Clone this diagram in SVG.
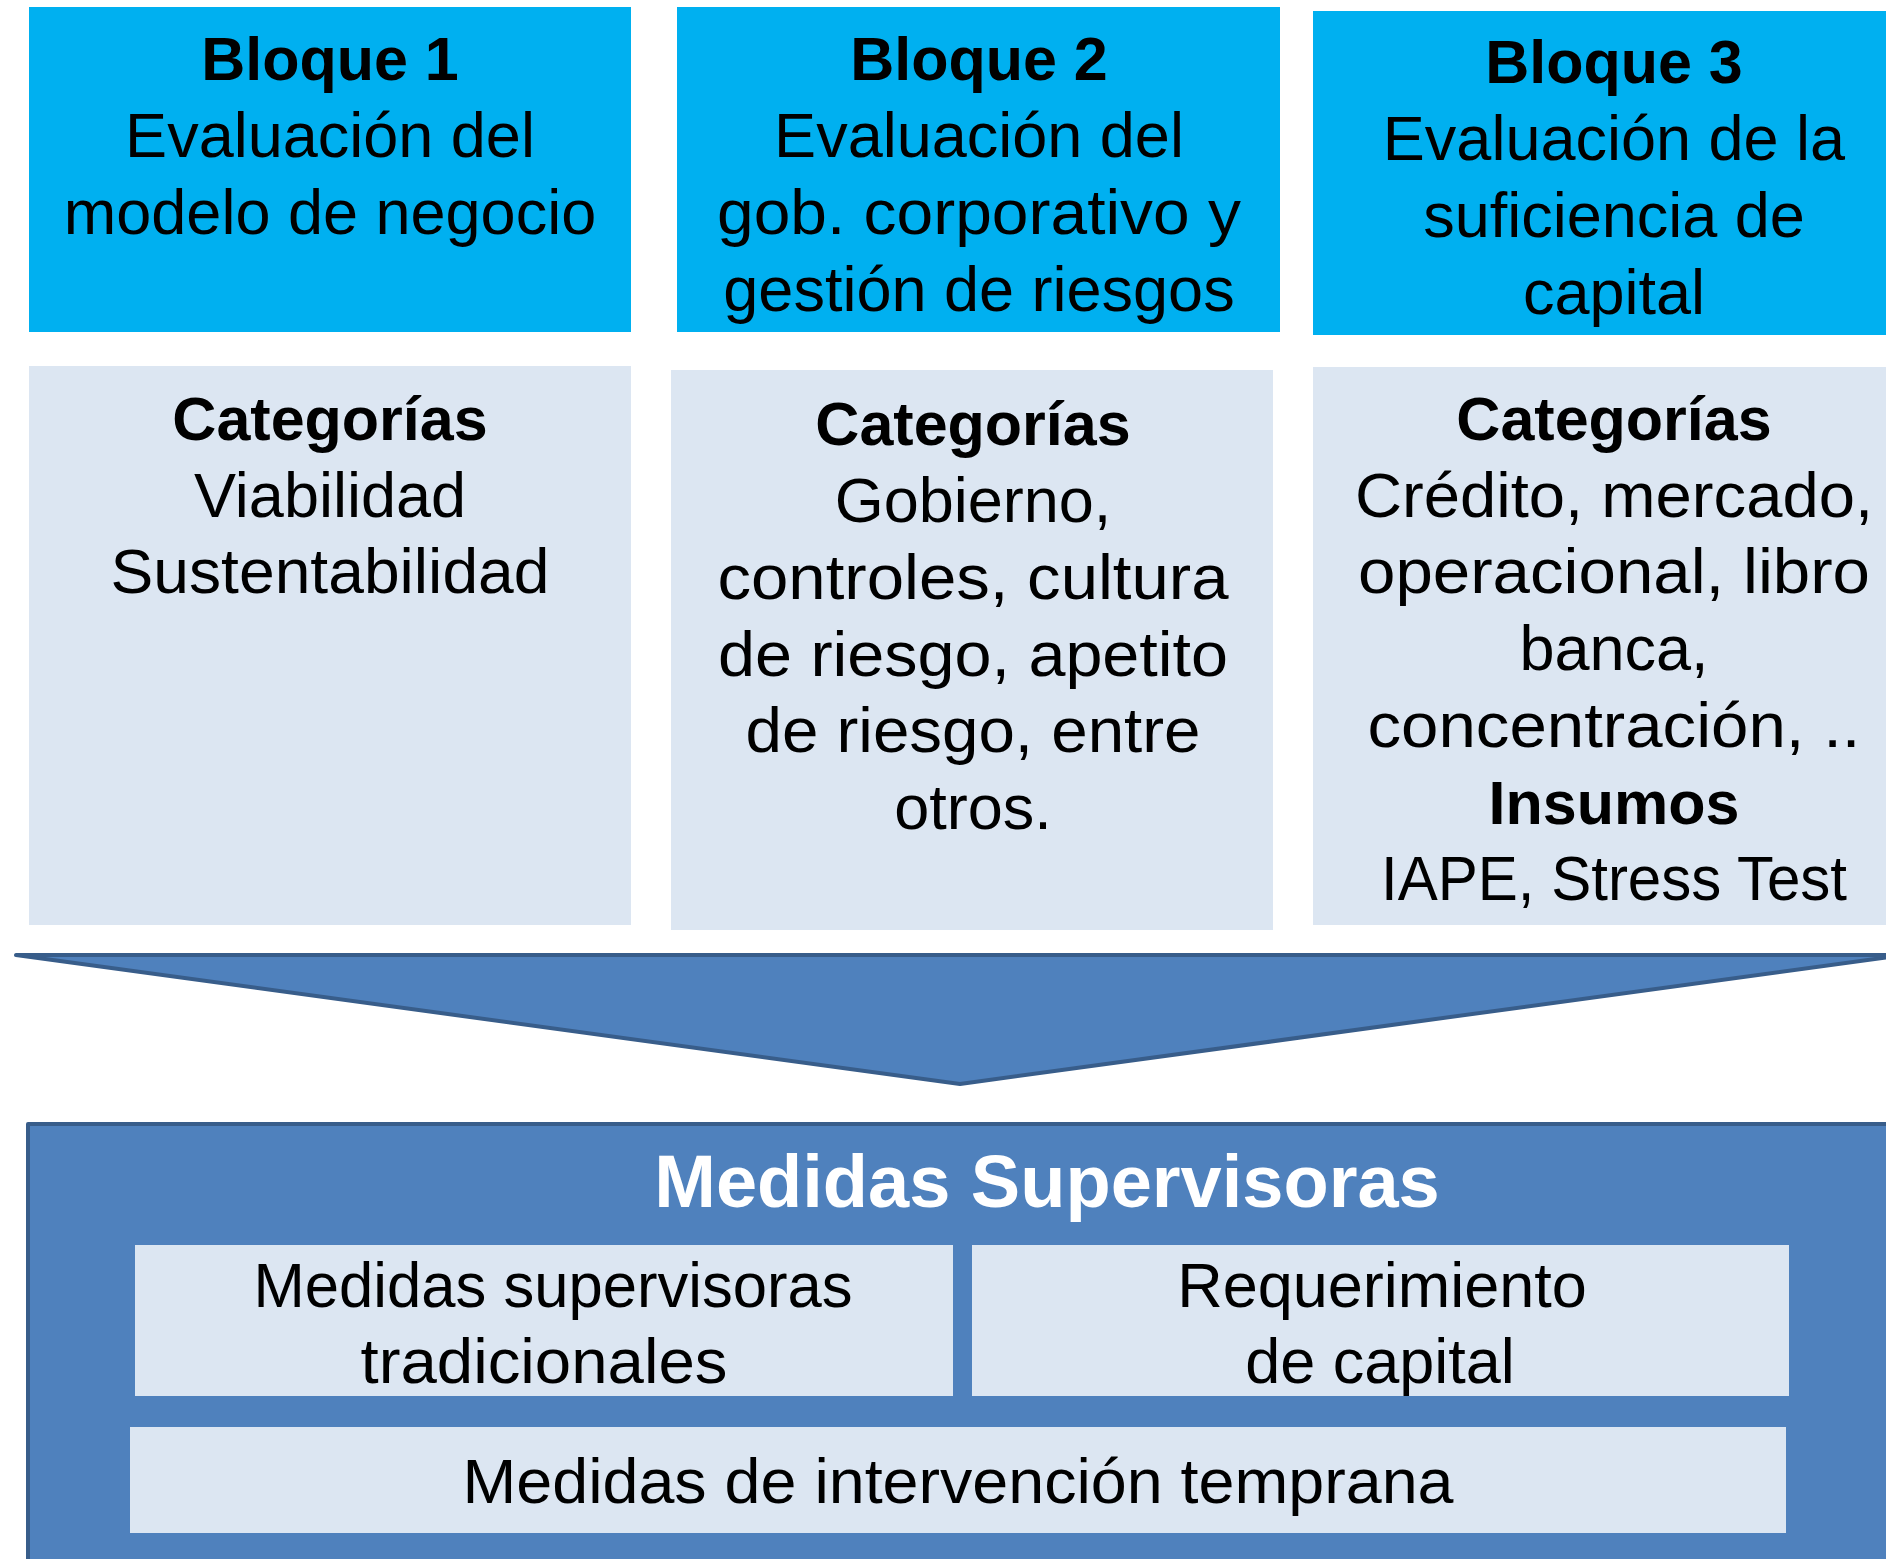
<svg xmlns="http://www.w3.org/2000/svg" width="1886" height="1559" viewBox="0 0 1886 1559">
<style>
.hdr{fill:#00B0F0}
.lt{fill:#DCE6F2}
.t{font-family:"Liberation Sans",Arial,sans-serif;font-size:63px;fill:#000;text-anchor:middle}
.b{font-weight:bold;font-size:61px}
.shape{fill:#4F81BD;stroke:#385D8A;stroke-width:4;stroke-linejoin:round}
.title{font-family:"Liberation Sans",Arial,sans-serif;font-size:74px;font-weight:bold;fill:#FFFFFF;text-anchor:middle}
</style>
<rect width="1886" height="1559" fill="#FFFFFF"/>

<g id="bloque1">
<rect class="hdr" x="29" y="7" width="602" height="325"/>
<text class="t b" x="330" y="80">Bloque 1</text>
<text class="t" x="330" y="157">Evaluación del</text>
<text class="t" x="330" y="234">modelo de negocio</text>
</g>

<g id="bloque2">
<rect class="hdr" x="677" y="7" width="603" height="325"/>
<text class="t b" x="979" y="80">Bloque 2</text>
<text class="t" x="979" y="157">Evaluación del</text>
<text class="t" x="979" y="234" textLength="524" lengthAdjust="spacingAndGlyphs">gob. corporativo y</text>
<text class="t" x="979" y="311">gestión de riesgos</text>
</g>

<g id="bloque3">
<rect class="hdr" x="1313" y="11" width="610" height="324"/>
<text class="t b" x="1614" y="83">Bloque 3</text>
<text class="t" x="1614" y="160">Evaluación de la</text>
<text class="t" x="1614" y="237">suficiencia de</text>
<text class="t" x="1614" y="314">capital</text>
</g>

<g id="categorias1">
<rect class="lt" x="29" y="366" width="602" height="559"/>
<text class="t b" x="330" y="440">Categorías</text>
<text class="t" x="330" y="517">Viabilidad</text>
<text class="t" x="330" y="593" textLength="439" lengthAdjust="spacingAndGlyphs">Sustentabilidad</text>
</g>

<g id="categorias2">
<rect class="lt" x="671" y="370" width="602" height="560"/>
<text class="t b" x="973" y="445">Categorías</text>
<text class="t" x="973" y="522">Gobierno,</text>
<text class="t" x="973" y="599" textLength="511" lengthAdjust="spacingAndGlyphs">controles, cultura</text>
<text class="t" x="973" y="676" textLength="510" lengthAdjust="spacingAndGlyphs">de riesgo, apetito</text>
<text class="t" x="973" y="752" textLength="455" lengthAdjust="spacingAndGlyphs">de riesgo, entre</text>
<text class="t" x="973" y="829">otros.</text>
</g>

<g id="categorias3">
<rect class="lt" x="1313" y="367" width="610" height="558"/>
<text class="t b" x="1614" y="440">Categorías</text>
<text class="t" x="1614" y="517" textLength="518" lengthAdjust="spacingAndGlyphs">Crédito, mercado,</text>
<text class="t" x="1614" y="593" textLength="512" lengthAdjust="spacingAndGlyphs">operacional, libro</text>
<text class="t" x="1614" y="670">banca,</text>
<text class="t" x="1614" y="747" textLength="493" lengthAdjust="spacingAndGlyphs">concentración, ..</text>
<text class="t b" x="1614" y="824">Insumos</text>
<text class="t" x="1614" y="900" textLength="466" lengthAdjust="spacingAndGlyphs">IAPE, Stress Test</text>
</g>

<g id="connectors">
<polygon class="shape" points="16,955 1904,955 960,1084"/>
</g>

<g id="medidas">
<rect class="shape" x="28" y="1124" width="1900" height="500"/>
<text class="title" x="1047" y="1207">Medidas Supervisoras</text>
</g>

<g id="tradicionales">
<rect class="lt" x="135" y="1245" width="818" height="151"/>
<text class="t" x="553" y="1307" textLength="599" lengthAdjust="spacingAndGlyphs">Medidas supervisoras</text>
<text class="t" x="544" y="1383" textLength="367" lengthAdjust="spacingAndGlyphs">tradicionales</text>
</g>

<g id="requerimiento">
<rect class="lt" x="972" y="1245" width="817" height="151"/>
<text class="t" x="1382" y="1307">Requerimiento</text>
<text class="t" x="1380" y="1383">de capital</text>
</g>

<g id="intervencion">
<rect class="lt" x="130" y="1427" width="1656" height="106"/>
<text class="t" x="958" y="1503" textLength="991" lengthAdjust="spacingAndGlyphs">Medidas de intervención temprana</text>
</g>
</svg>
